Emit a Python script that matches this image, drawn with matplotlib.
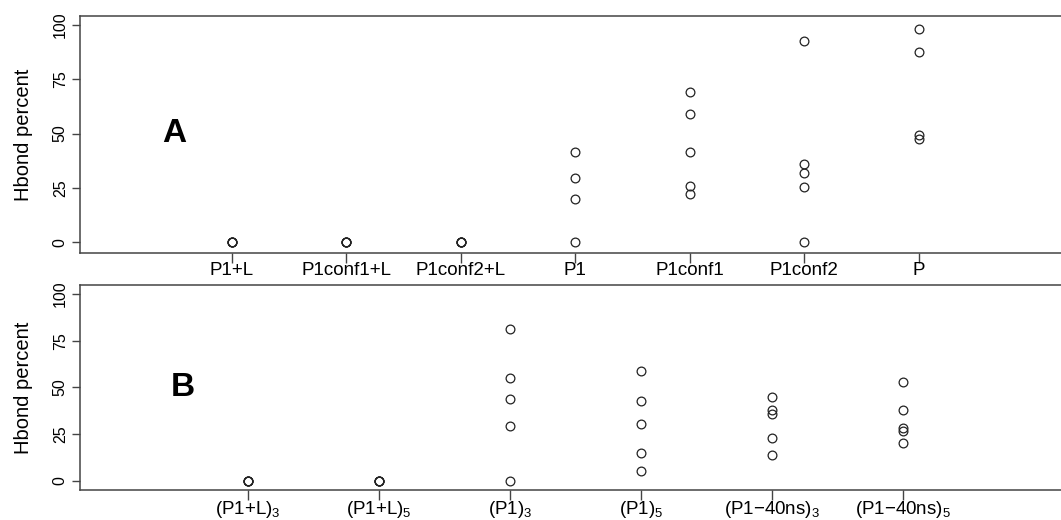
import matplotlib
matplotlib.use('Agg')
import matplotlib.pyplot as plt

plt.rcParams['font.family'] = ['Liberation Sans', 'DejaVu Sans']
plt.rcParams['mathtext.fontset'] = 'custom'
plt.rcParams['mathtext.rm'] = 'Liberation Sans'
plt.rcParams['mathtext.it'] = 'Liberation Sans:italic'

# panel A
cats_a = ['P1+L', 'P1conf1+L', 'P1conf2+L', 'P1', 'P1conf1', 'P1conf2', 'P']
vals_a = [
    [0, 0, 0, 0],
    [0, 0, 0, 0],
    [0, 0, 0, 0],
    [41.4, 29.5, 19.8, 0],
    [69.3, 59.0, 41.4, 26.0, 22.4],
    [92.8, 36.0, 32.0, 25.4, 0],
    [98.0, 87.4, 49.2, 47.3],
]

# panel B
cats_b = ['(P1+L)$_3$', '(P1+L)$_5$', '(P1)$_3$', '(P1)$_5$',
          '(P1\u221240ns)$_3$', '(P1\u221240ns)$_5$']
vals_b = [
    [0, 0, 0, 0],
    [0, 0, 0, 0],
    [81.1, 54.8, 43.8, 29.3, 0],
    [58.9, 42.9, 30.2, 14.8, 5.0],
    [45.0, 38.0, 35.7, 22.7, 13.6],
    [52.7, 37.7, 28.4, 26.6, 20.0],
]

yticks = [0, 25, 50, 75, 100]

fig = plt.figure(figsize=(10.61, 5.20), dpi=100)
ax1 = fig.add_axes([0.0757, 0.514, 1 - 0.0757, 0.4552])
ax2 = fig.add_axes([0.0757, 0.0583, 1 - 0.0757, 0.3931])

edge = '#444444'


def stripchart(ax, cats, vals, xlim, ylim, letter):
    for i, v in enumerate(vals):
        ax.plot([i + 1] * len(v), v, linestyle='none', marker='o',
                markersize=6.3, markerfacecolor='none',
                markeredgecolor='#222222', markeredgewidth=0.9)
    ax.set_xlim(*xlim)
    ax.set_ylim(*ylim)
    ax.set_xticks(range(1, len(cats) + 1))
    ax.set_xticklabels(cats, fontsize=13.5)
    ax.set_yticks(yticks)
    ax.set_yticklabels([str(t) for t in yticks], fontsize=11.5,
                       rotation=90, va='center')
    ax.tick_params(axis='x', length=7.5, width=1.0, color=edge, pad=-1)
    ax.tick_params(axis='y', length=6, width=1.0, color=edge, pad=3)
    for s in ['left', 'top', 'bottom']:
        ax.spines[s].set_color(edge)
        ax.spines[s].set_linewidth(1.1)
    ax.spines['right'].set_visible(False)
    ax.set_ylabel('Hbond percent', fontsize=14.5, labelpad=14)
    ax.text(0.5, 50, letter, fontsize=24, fontweight='bold',
            ha='center', va='center')


stripchart(ax1, cats_a, vals_a, (-0.322, 8.243), (-4.8, 104.1), 'A')
stripchart(ax2, cats_b, vals_b, (-0.282, 7.204), (-4.8, 104.7), 'B')

fig.savefig('out.png', dpi=100)
